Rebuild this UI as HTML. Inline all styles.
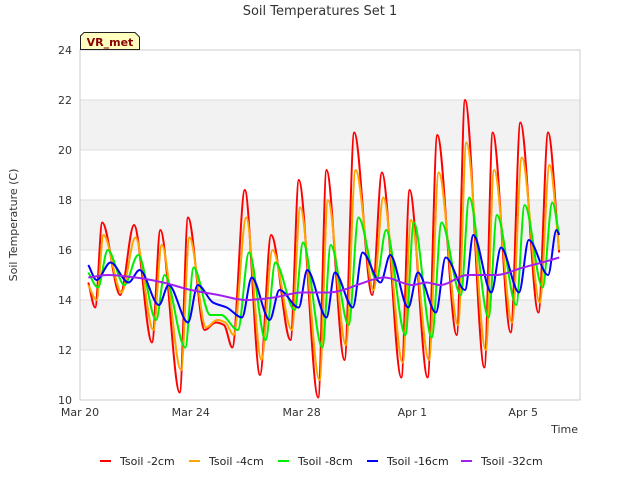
<!DOCTYPE html>
<html><head><meta charset="utf-8"><style>
body{margin:0;background:#fff;font-family:"DejaVu Sans","Liberation Sans",sans-serif;}
svg text{font-family:"DejaVu Sans","Liberation Sans",sans-serif;}
</style></head><body>
<svg id="chart" width="640" height="480" viewBox="0 0 640 480" xmlns="http://www.w3.org/2000/svg">
<rect x="0" y="0" width="640" height="480" fill="#fff"/>
<g id="bands"></g>
<g id="grid"></g>
<rect x="80" y="50" width="500" height="350" fill="none" stroke="#cccccc"/>
<g id="yticks"></g>
<g id="xticks"></g>
<g id="series"></g>
<text x="320" y="15" text-anchor="middle" font-size="13" fill="#333">Soil Temperatures Set 1</text>
<text x="17" y="225" text-anchor="middle" font-size="11" fill="#333" transform="rotate(-90 17 225)">Soil Temperature (C)</text>
<text x="578" y="433" text-anchor="end" font-size="11" fill="#333">Time</text>
<g>
<path d="M80.5,49.5 L80.5,36 L84,32.5 L135,32.5 L139.5,37 L139.5,49.5 Z" fill="#ffffc0" stroke="#222" stroke-width="1"/>
<text x="110" y="46" text-anchor="middle" font-size="11" font-weight="bold" fill="#8b0000">VR_met</text>
</g>
<g id="legend"></g>
</svg>
<script>
const yTicks=[10,12,14,16,18,20,22,24];
const xTickLabels=["Mar 20","Mar 24","Mar 28","Apr 1","Apr 5"];
const xTickDays=[0,4,8,12,16];
const seriesNames=["Tsoil -2cm","Tsoil -4cm","Tsoil -8cm","Tsoil -16cm","Tsoil -32cm"];
const seriesColors=["#ff0000","#ffa500","#00ee00","#0000ff","#a020f0"];
// [day offset from Mar 20, temperature]
const tsoil2=[[0.3,14.7],[0.55,13.7],[0.8,17.1],[1.45,14.2],[1.95,17.0],[2.6,12.3],[2.9,16.8],[3.6,10.3],[3.9,17.3],[4.5,12.8],[4.9,13.1],[5.2,13.0],[5.5,12.1],[5.95,18.4],[6.5,11.0],[6.9,16.6],[7.6,12.4],[7.9,18.8],[8.6,10.1],[8.9,19.2],[9.55,11.6],[9.9,20.7],[10.55,14.2],[10.9,19.1],[11.6,10.9],[11.9,18.4],[12.55,10.9],[12.9,20.6],[13.6,12.6],[13.9,22.0],[14.6,11.3],[14.9,20.7],[15.55,12.7],[15.9,21.1],[16.55,13.5],[16.9,20.7],[17.3,15.9]];
const tsoil4=[[0.3,14.6],[0.6,14.0],[0.85,16.6],[1.5,14.3],[2.0,16.5],[2.65,12.8],[2.95,16.2],[3.65,11.2],[3.95,16.5],[4.55,12.9],[4.95,13.2],[5.25,13.1],[5.55,12.6],[6.0,17.3],[6.55,11.6],[6.95,16.0],[7.65,12.8],[7.95,17.7],[8.65,10.8],[8.95,18.0],[9.6,12.2],[9.95,19.2],[10.6,14.4],[10.95,18.1],[11.65,11.5],[11.95,17.2],[12.6,11.6],[12.95,19.1],[13.65,13.0],[13.95,20.3],[14.65,12.0],[14.95,19.2],[15.6,13.1],[15.95,19.7],[16.6,13.9],[16.95,19.4],[17.3,16.0]];
const tsoil8=[[0.3,15.1],[0.65,14.5],[1.0,16.0],[1.6,14.6],[2.1,15.8],[2.75,13.2],[3.05,15.0],[3.8,12.1],[4.1,15.3],[4.7,13.4],[5.1,13.4],[5.7,12.8],[6.1,15.9],[6.7,12.4],[7.05,15.5],[7.75,13.6],[8.05,16.3],[8.75,12.1],[9.05,16.2],[9.7,13.0],[10.05,17.3],[10.7,14.8],[11.05,16.8],[11.75,12.6],[12.05,17.1],[12.7,12.5],[13.05,17.1],[13.75,14.2],[14.05,18.1],[14.75,13.3],[15.05,17.4],[15.75,13.8],[16.05,17.8],[16.7,14.5],[17.05,17.9],[17.3,16.6]];
const tsoil16=[[0.3,15.4],[0.6,14.8],[1.1,15.5],[1.75,14.7],[2.15,15.2],[2.85,13.8],[3.2,14.6],[3.9,13.1],[4.25,14.6],[4.8,13.9],[5.3,13.7],[5.85,13.3],[6.2,14.9],[6.85,13.2],[7.2,14.4],[7.9,13.7],[8.2,15.2],[8.9,13.3],[9.2,15.1],[9.85,13.7],[10.2,15.9],[10.85,14.7],[11.2,15.8],[11.85,13.7],[12.2,15.1],[12.85,13.5],[13.2,15.7],[13.9,14.4],[14.2,16.6],[14.85,14.3],[15.2,16.1],[15.85,14.3],[16.2,16.4],[16.9,15.0],[17.2,16.8],[17.3,16.6]];
const tsoil32=[[0.3,14.9],[1,15.0],[2,14.9],[3,14.7],[4,14.4],[5,14.2],[6,14.0],[7,14.1],[8,14.3],[9,14.3],[9.5,14.4],[10,14.6],[11,14.9],[12,14.6],[12.5,14.7],[13,14.6],[14,15.0],[15,15.0],[16,15.3],[17,15.6],[17.3,15.7]];
const allSeries=[tsoil2,tsoil4,tsoil8,tsoil16,tsoil32];

const NS="http://www.w3.org/2000/svg";
const X0=80,X1=580,Y0=400,Y1=50,DPP=27.7;
function xs(d){return X0+d*DPP;}
function ys(v){return Y0-(v-10)/(24-10)*(Y0-Y1);}
function mk(tag,attrs,parent){const e=document.createElementNS(NS,tag);for(const k in attrs)e.setAttribute(k,attrs[k]);parent.appendChild(e);return e;}
const bands=document.getElementById('bands');
[[12,14],[16,18],[20,22]].forEach(b=>{
  const r=mk('rect',{x:X0,y:ys(b[1]),width:X1-X0,height:ys(b[0])-ys(b[1]),fill:'#f2f2f2'},bands);
  
  
});
const grid=document.getElementById('grid'),yt=document.getElementById('yticks');
yTicks.forEach(t=>{
  const l=mk('line',{x1:X0,x2:X1,y1:ys(t),y2:ys(t),stroke:'#dddddd'},grid);
  
  
  const tx=mk('text',{x:72,y:ys(t)+4,'text-anchor':'end','font-size':'11',fill:'#333'},yt);
  tx.textContent=t;
  
  
});
const xt=document.getElementById('xticks');
xTickDays.forEach((d,i)=>{
  const tx=mk('text',{x:xs(d),y:416,'text-anchor':'middle','font-size':'11',fill:'#333'},xt);
  tx.textContent=xTickLabels[i];
  
  
});
// monotone cubic (Fritsch-Carlson)
function smooth(pts){
  const p=pts.map(a=>[xs(a[0]),ys(a[1])]);
  const n=p.length,dx=[],sl=[],m=[];
  for(let i=0;i<n-1;i++){dx[i]=p[i+1][0]-p[i][0];sl[i]=(p[i+1][1]-p[i][1])/dx[i];}
  m[0]=sl[0];m[n-1]=sl[n-2];
  for(let i=1;i<n-1;i++){
    if(sl[i-1]*sl[i]<=0)m[i]=0;
    else{const w1=2*dx[i]+dx[i-1],w2=dx[i]+2*dx[i-1];m[i]=(w1+w2)/(w1/sl[i-1]+w2/sl[i]);}
  }
  let d='M'+p[0][0].toFixed(1)+','+p[0][1].toFixed(1);
  for(let i=0;i<n-1;i++){
    const h=dx[i]/3;
    d+=' C'+(p[i][0]+h).toFixed(1)+','+(p[i][1]+m[i]*h).toFixed(1)+' '+(p[i+1][0]-h).toFixed(1)+','+(p[i+1][1]-m[i+1]*h).toFixed(1)+' '+p[i+1][0].toFixed(1)+','+p[i+1][1].toFixed(1);
  }
  return d;
}
const sg=document.getElementById('series');
allSeries.forEach((s,i)=>{
  const p=mk('path',{d:smooth(s),fill:'none',stroke:seriesColors[i],'stroke-width':'2','stroke-linejoin':'round'},sg);
  
  
});
const lg=document.getElementById('legend');
const lx=[100,189,278,367,461];
seriesNames.forEach((n,i)=>{
  const g=mk('g',{},lg);
  
  
  mk('line',{x1:lx[i],x2:lx[i]+11,y1:461,y2:461,stroke:seriesColors[i],'stroke-width':'2'},g);
  const t=mk('text',{x:lx[i]+20,y:465,'font-size':'11',fill:'#222'},g);
  t.textContent=n;
});
</script>
</body></html>
